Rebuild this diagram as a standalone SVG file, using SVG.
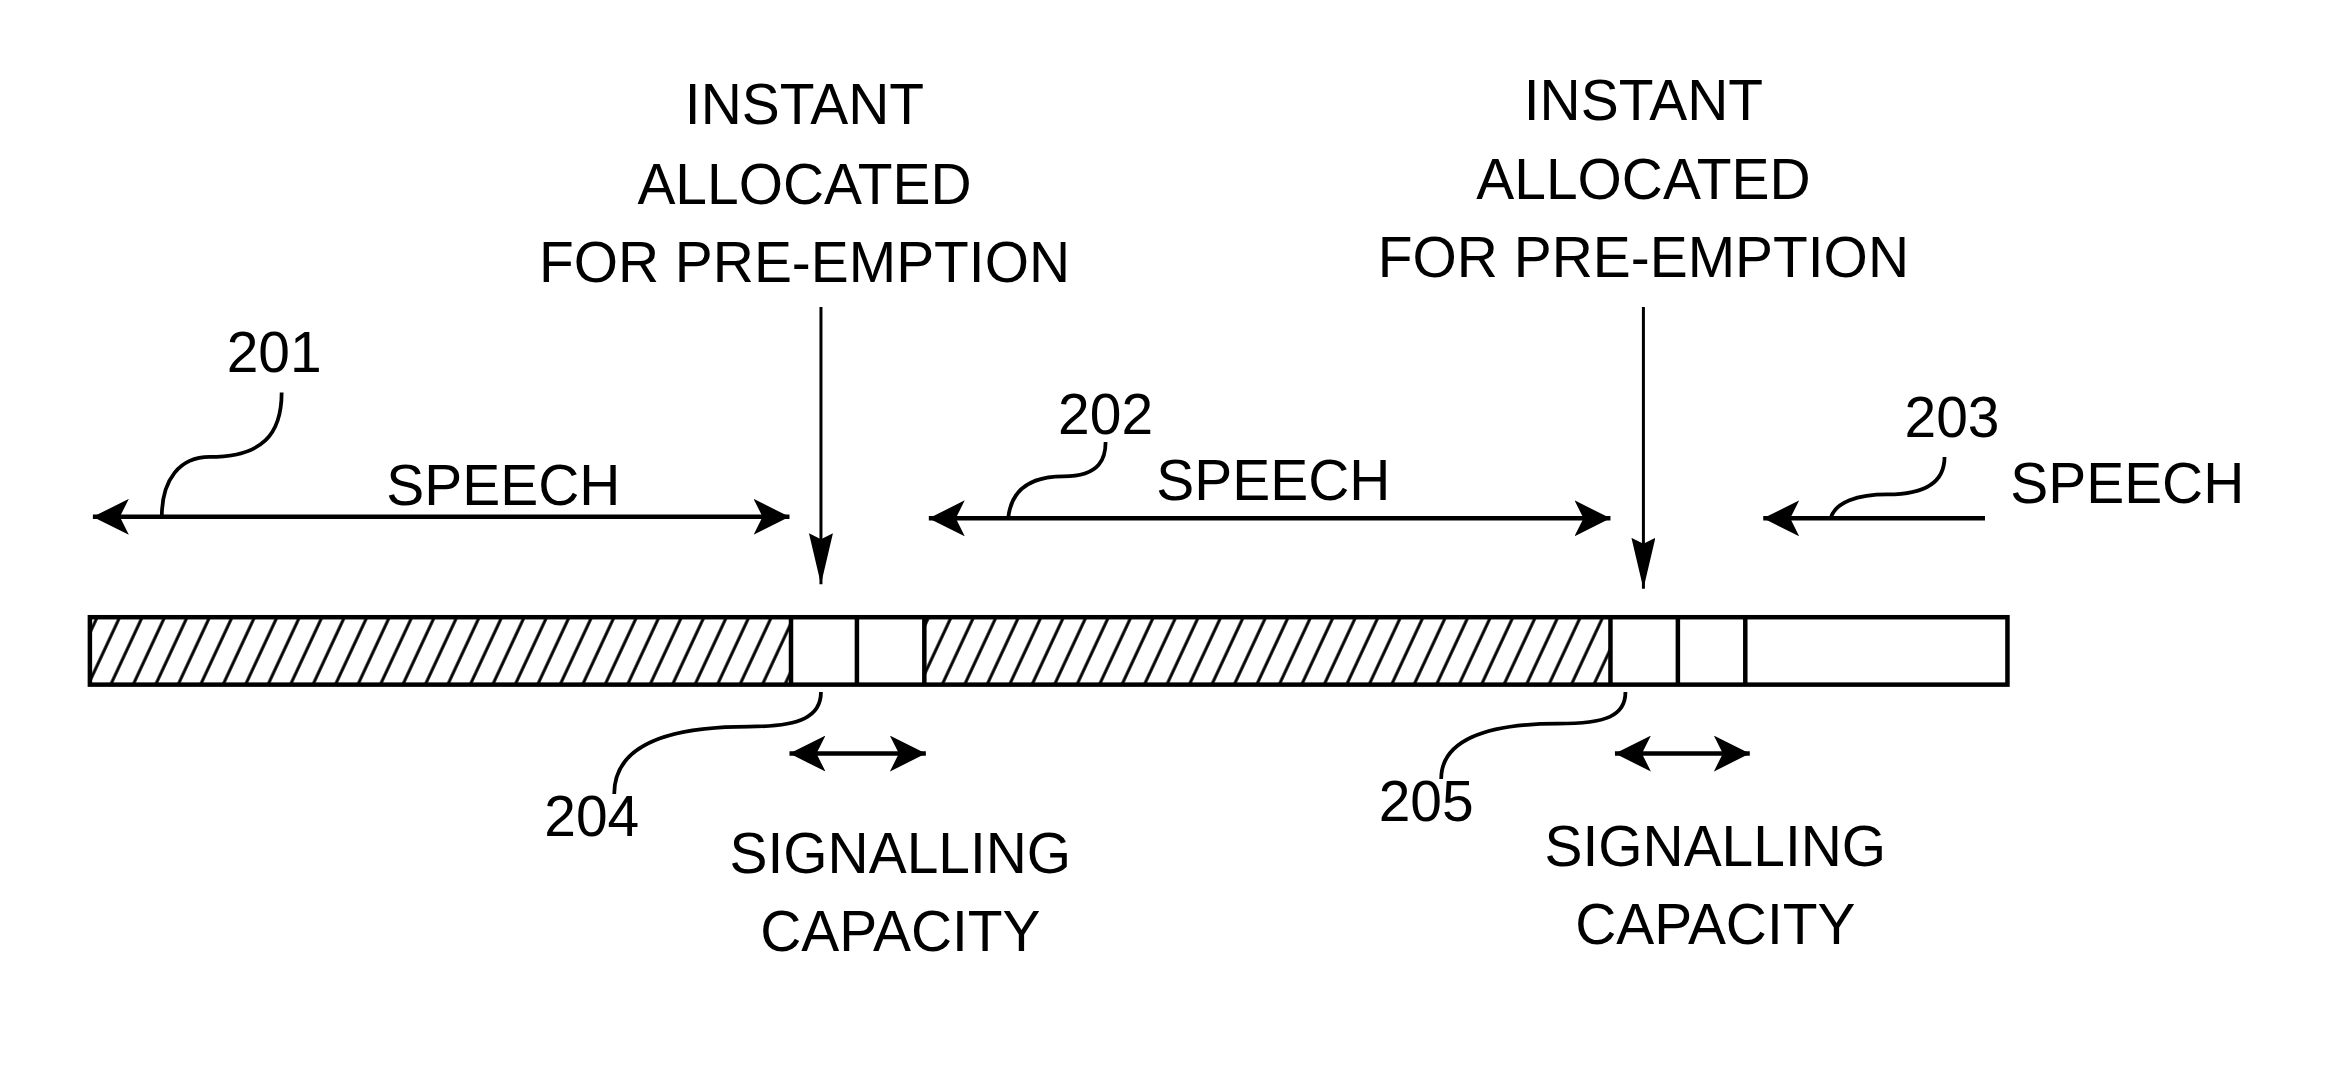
<svg xmlns="http://www.w3.org/2000/svg" width="2337" height="1069" viewBox="0 0 2337 1069">
<style>
text{font-family:"Liberation Sans",Arial,sans-serif;font-size:38px;fill:#000;text-anchor:middle}
.l{stroke:#000;stroke-width:3;fill:none}
.c{stroke:#000;stroke-width:2.5;fill:none}
</style>
<defs>
<pattern id="h" patternUnits="userSpaceOnUse" width="15" height="45" patternTransform="skewX(-25)">
<line x1="2" y1="0" x2="2" y2="45" stroke="#000" stroke-width="2.2"/>
</pattern>
<marker id="a" viewBox="0 0 24 24" refX="24" refY="12" markerWidth="24" markerHeight="24" markerUnits="userSpaceOnUse" orient="auto-start-reverse">
<path d="M0,0 L24,12 L0,24 L6,12 Z" fill="#000"/>
</marker>
<marker id="v" viewBox="0 0 34 16" refX="34" refY="8" markerWidth="34" markerHeight="16" markerUnits="userSpaceOnUse" orient="auto">
<path d="M0,0 L34,8 L0,16 L4,8 Z" fill="#000"/>
</marker>
</defs>
<rect width="2337" height="1069" fill="#fff"/>
<g transform="scale(1.4981)">
<g id="bar">
<rect x="60" y="412" width="468" height="45" fill="url(#h)"/>
<rect x="617" y="412" width="458" height="45" fill="url(#h)"/>
<rect x="60" y="412" width="1280" height="45" class="l"/>
<line x1="528" y1="412" x2="528" y2="457" class="l"/>
<line x1="572" y1="412" x2="572" y2="457" class="l"/>
<line x1="617" y1="412" x2="617" y2="457" class="l"/>
<line x1="1075" y1="412" x2="1075" y2="457" class="l"/>
<line x1="1120" y1="412" x2="1120" y2="457" class="l"/>
<line x1="1165" y1="412" x2="1165" y2="457" class="l"/>
</g>
<g id="labels">
<text x="537" y="83">INSTANT</text>
<text x="537" y="136">ALLOCATED</text>
<text x="537" y="188">FOR PRE-EMPTION</text>
<text x="1097" y="80">INSTANT</text>
<text x="1097" y="133">ALLOCATED</text>
<text x="1097" y="185">FOR PRE-EMPTION</text>
<text x="336" y="337">SPEECH</text>
<text x="850" y="334">SPEECH</text>
<text x="1420" y="336">SPEECH</text>
<text x="183" y="248">201</text>
<text x="738" y="290">202</text>
<text x="1303" y="292">203</text>
<text x="395" y="558">204</text>
<text x="952" y="548">205</text>
<text x="601" y="583">SIGNALLING</text>
<text x="601" y="635">CAPACITY</text>
<text x="1145" y="578">SIGNALLING</text>
<text x="1145" y="630">CAPACITY</text>
</g>
<g id="connectors">
<line x1="548" y1="205" x2="548" y2="390" stroke="#000" stroke-width="2" marker-end="url(#v)"/>
<line x1="1097" y1="205" x2="1097" y2="393" stroke="#000" stroke-width="2" marker-end="url(#v)"/>
<line x1="62" y1="345" x2="527" y2="345" class="l" marker-start="url(#a)" marker-end="url(#a)"/>
<line x1="620" y1="346" x2="1075" y2="346" class="l" marker-start="url(#a)" marker-end="url(#a)"/>
<line x1="1325" y1="346" x2="1177" y2="346" class="l" marker-end="url(#a)"/>
<line x1="527" y1="503" x2="618" y2="503" class="l" marker-start="url(#a)" marker-end="url(#a)"/>
<line x1="1078" y1="503" x2="1168" y2="503" class="l" marker-start="url(#a)" marker-end="url(#a)"/>
<path d="M108,345 C108,320 120,305 140,305 C175,305 188,290 188,262" class="c"/>
<path d="M673,346 C675,325 690,318 710,318 C735,318 738,305 738,295" class="c"/>
<path d="M1222,346 C1225,335 1240,330 1260,330 C1290,330 1298,318 1298,305" class="c"/>
<path d="M548,462 C548,478 535,485 500,485 C440,485 410,500 410,530" class="c"/>
<path d="M1085,462 C1085,478 1072,483 1040,483 C990,483 962,495 962,520" class="c"/>
</g>
</g>
</svg>
